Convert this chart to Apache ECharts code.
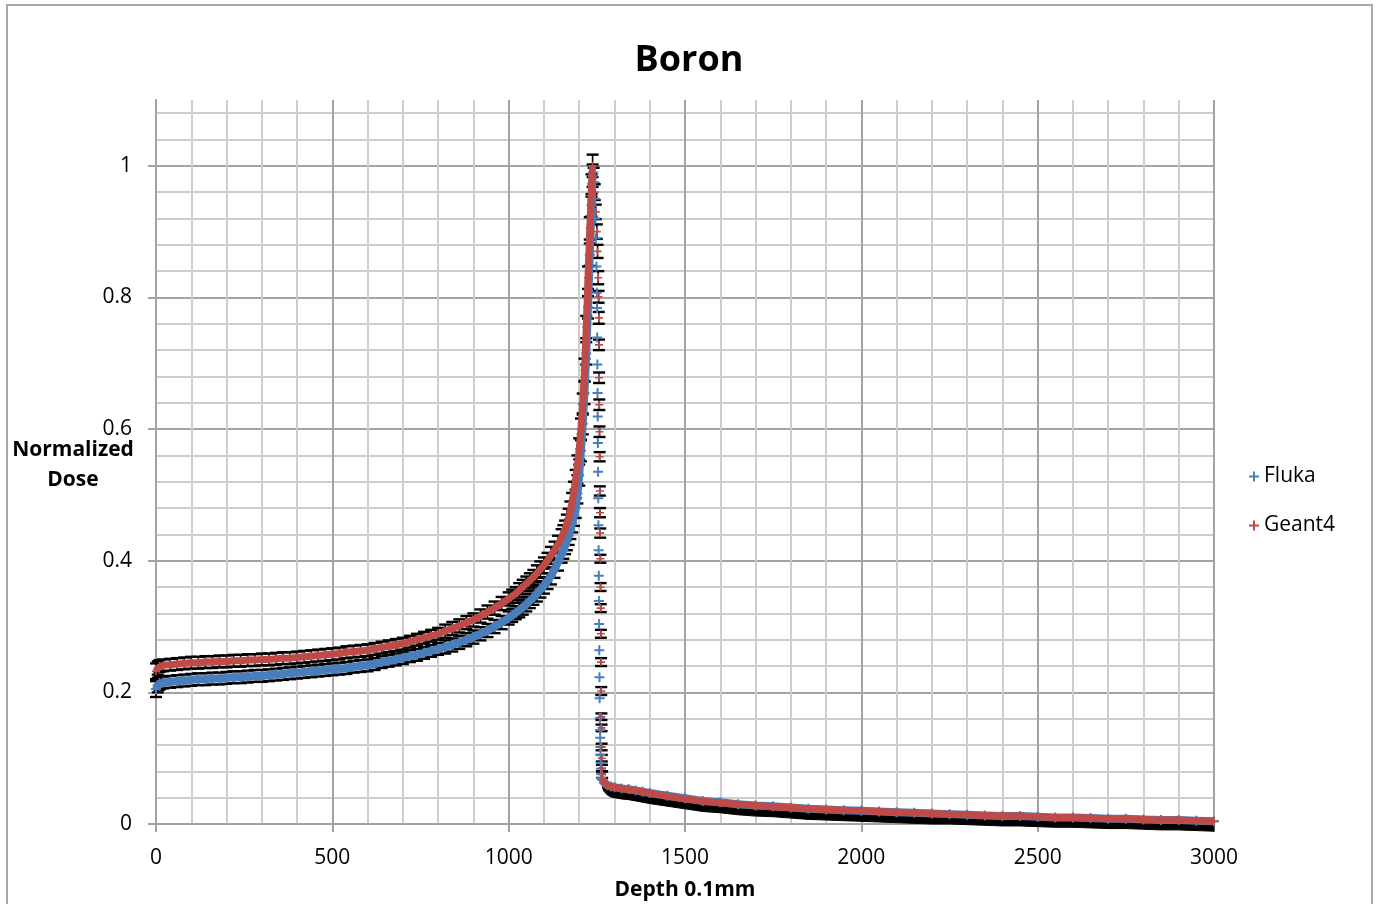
<!DOCTYPE html>
<html><head><meta charset="utf-8">
<script src="https://cdn.jsdelivr.net/npm/echarts@6/dist/echarts.min.js"></script>
<style>html,body{margin:0;padding:0;background:#fff}#c{width:1383px;height:904px}</style>
</head><body><div id="c"></div>
<script>
// ---------- DATA ----------
const title = 'Boron';
const seriesNames = ['Fluka', 'Geant4'];
const xAxisName = 'Depth 0.1mm';
const yAxisName = ['Normalized', 'Dose'];

// entrance plateau + rising edge (depth in 0.1mm)
const riseDepth = [0,5,10,20,40,60,80,100,120,140,
  160,180,200,220,240,260,280,300,320,340,
  360,380,400,420,440,460,480,500,520,540,
  560,580,600,620,640,660,680,700,720,740,
  760,780,800,820,840,860,880,900,920,940,
  960,980,1000,1010,1020,1030,1040,1050,1060,1070,
  1080,1090,1100,1110,1120,1130,1140,1150,1155,1160,
  1165,1170,1175,1180,1185,1190,1195,1200,1205,1210,
  1215,1220,1225,1230,1235,1238];
const flukaRise = [0.205,0.211,0.214,0.215,0.216,0.217,0.218,0.219,0.220,0.220,
  0.221,0.221,0.222,0.223,0.223,0.224,0.225,0.225,0.226,0.227,
  0.228,0.229,0.230,0.231,0.232,0.233,0.234,0.235,0.236,0.237,
  0.239,0.240,0.241,0.243,0.246,0.248,0.250,0.252,0.255,0.257,
  0.260,0.263,0.266,0.269,0.272,0.276,0.280,0.284,0.289,0.294,
  0.300,0.306,0.313,0.317,0.321,0.325,0.329,0.334,0.339,0.344,
  0.350,0.356,0.362,0.369,0.377,0.387,0.398,0.410,0.416,0.423,
  0.430,0.438,0.447,0.457,0.468,0.480,0.502,0.530,0.567,0.608,
  0.655,0.715,0.785,0.865,0.940,0.985];
const geant4Rise = [0.232,0.237,0.240,0.241,0.242,0.243,0.244,0.245,0.245,0.246,
  0.246,0.247,0.247,0.248,0.248,0.249,0.249,0.250,0.250,0.251,
  0.252,0.252,0.253,0.254,0.255,0.256,0.257,0.258,0.259,0.261,
  0.262,0.263,0.264,0.266,0.268,0.270,0.272,0.274,0.277,0.280,
  0.283,0.286,0.289,0.293,0.297,0.301,0.306,0.310,0.316,0.322,
  0.328,0.335,0.342,0.346,0.350,0.355,0.360,0.365,0.370,0.375,
  0.381,0.387,0.393,0.400,0.408,0.416,0.425,0.435,0.441,0.448,
  0.456,0.465,0.476,0.489,0.505,0.523,0.545,0.570,0.600,0.638,
  0.690,0.755,0.830,0.905,0.970,1.000];
const flukaRiseErr = [0.012,0.011,0.010,0.009,0.009,0.009,0.009,0.009,0.009,0.009,
  0.009,0.009,0.009,0.009,0.009,0.009,0.009,0.009,0.009,0.009,
  0.009,0.009,0.009,0.009,0.009,0.009,0.009,0.009,0.009,0.009,
  0.009,0.009,0.009,0.009,0.009,0.009,0.009,0.009,0.009,0.009,
  0.009,0.009,0.009,0.010,0.010,0.010,0.010,0.010,0.010,0.010,
  0.010,0.010,0.010,0.010,0.010,0.011,0.011,0.011,0.011,0.011,
  0.012,0.012,0.012,0.012,0.013,0.013,0.013,0.013,0.013,0.013,
  0.014,0.014,0.014,0.014,0.015,0.015,0.015,0.016,0.016,0.016,
  0.017,0.017,0.017,0.017,0.017,0.017];
const geant4RiseErr = [0.012,0.010,0.009,0.009,0.009,0.009,0.009,0.009,0.009,0.009,
  0.009,0.009,0.009,0.009,0.009,0.009,0.009,0.009,0.009,0.009,
  0.009,0.009,0.009,0.009,0.009,0.009,0.009,0.009,0.009,0.009,
  0.009,0.009,0.009,0.009,0.009,0.009,0.009,0.009,0.009,0.009,
  0.009,0.009,0.009,0.010,0.010,0.010,0.010,0.010,0.010,0.010,
  0.010,0.010,0.010,0.010,0.010,0.011,0.011,0.011,0.011,0.011,
  0.012,0.012,0.012,0.012,0.013,0.013,0.013,0.013,0.013,0.013,
  0.014,0.014,0.014,0.014,0.015,0.015,0.015,0.016,0.016,0.016,
  0.017,0.017,0.017,0.017,0.017,0.017];

// distal fall-off (discrete points)
const flukaFallDepth = [1240,1242,1244,1246,1247,1249,1250,1250.5,1251,1251.5,
  1252,1252.5,1253,1253.5,1254,1254.5,1255,1255.5,1256,1256.5,
  1257,1257.5,1258,1258.5,1259,1259.5,1260,1260.5,1261,1261.5,
  1262,1263];
const flukaFall = [0.990,0.975,0.950,0.920,0.890,0.847,0.807,0.784,0.739,0.698,
  0.655,0.619,0.579,0.535,0.495,0.454,0.416,0.377,0.339,0.304,
  0.264,0.223,0.191,0.161,0.143,0.131,0.117,0.105,0.093,0.084,
  0.076,0.070];
const geant4FallDepth = [1241,1244,1247,1250,1252,1254,1255,1255.5,1256,1256.5,
  1257,1257.5,1258,1258.5,1259,1259.5,1260,1260.5,1261,1261.5,
  1262,1262.5,1263,1263.3,1263.6,1264,1264.5,1265];
const geant4Fall = [0.985,0.960,0.930,0.900,0.870,0.830,0.801,0.769,0.728,0.678,
  0.637,0.596,0.558,0.506,0.473,0.442,0.403,0.360,0.328,0.289,
  0.246,0.202,0.163,0.146,0.117,0.100,0.085,0.075];
const geant4FallErr = [0.012,0.012,0.011,0.011,0.010,0.010,0.009,0.009,0.008,0.008,
  0.008,0.008,0.007,0.007,0.007,0.007,0.006,0.006,0.006,0.006,
  0.006,0.006,0.005,0.005,0.005,0.005,0.005,0.005];

// fragment tail
const tailDepth = [1266,1270,1275,1280,1290,1300,1320,1340,1360,1380,
  1400,1450,1500,1550,1600,1650,1700,1750,1800,1850,
  1900,1950,2000,2050,2100,2150,2200,2250,2300,2350,
  2400,2450,2500,2550,2600,2650,2700,2750,2800,2850,
  2900,2950,3000];
const flukaTail = [0.067,0.063,0.061,0.059,0.057,0.056,0.054,0.053,0.051,0.049,
  0.047,0.043,0.039,0.035,0.033,0.030,0.028,0.027,0.025,0.023,
  0.022,0.021,0.020,0.019,0.018,0.017,0.016,0.015,0.014,0.013,
  0.012,0.012,0.011,0.010,0.010,0.009,0.008,0.008,0.007,0.006,
  0.006,0.005,0.004];
const geant4Tail = [0.068,0.064,0.061,0.059,0.057,0.056,0.054,0.052,0.051,0.049,
  0.047,0.042,0.038,0.035,0.032,0.030,0.028,0.026,0.025,0.023,
  0.022,0.021,0.020,0.019,0.018,0.017,0.016,0.015,0.014,0.013,
  0.012,0.012,0.011,0.010,0.010,0.009,0.008,0.008,0.007,0.006,
  0.006,0.005,0.004];
const tailErrMinus = [0.012,0.013,0.014,0.015,0.016,0.016,0.016,0.016,0.016,0.016,
  0.016,0.016,0.016,0.016,0.016,0.016,0.016,0.016,0.016,0.016,
  0.016,0.016,0.016,0.016,0.016,0.016,0.016,0.015,0.015,0.015,
  0.015,0.015,0.015,0.015,0.015,0.015,0.015,0.015,0.015,0.015,
  0.015,0.015,0.015];

// axes
const xMin = 0, xMax = 3000, xMajor = 500, xMinor = 100;
const yMin = 0, yMax = 1.1, yMajor = 0.2, yMinor = 0.04;

// ---------- CHART ----------
const BLUE = '#4a7ebb', RED = '#be4b48';
const FONT = '"Open Sans", "Noto Sans", sans-serif';
const MAJOR = '#a3a3a3', MINOR = '#cdcdcd';
const PLUS = 'path://M4 0H6V4H10V6H6V10H4V6H0V4H4Z';

const pairs = (xs, ys) => xs.map((x, i) => [x, ys[i]]);
const triples = (xs, ys, es) => xs.map((x, i) => [x, ys[i], es[i]]);

function errorBars(params, api) {
  const x = api.value(0), y = api.value(1), e = api.value(2);
  const hi = api.coord([x, y + e]), lo = api.coord([x, y - e]);
  const hw = 6, st = { stroke: '#000', lineWidth: 2.4 };
  return { type: 'group', children: [
    { type: 'line', shape: { x1: hi[0], y1: hi[1], x2: lo[0], y2: lo[1] }, style: { stroke: '#000', lineWidth: 1.6 } },
    { type: 'line', shape: { x1: hi[0] - hw, y1: hi[1], x2: hi[0] + hw, y2: hi[1] }, style: st },
    { type: 'line', shape: { x1: lo[0] - hw, y1: lo[1], x2: lo[0] + hw, y2: lo[1] }, style: st }
  ]};
}
function minusBand(data) {
  return function (params, api) {
    const i = params.dataIndex;
    if (i >= data.length - 1) return null;
    const a = data[i], b = data[i + 1];
    const pts = [api.coord([a[0], a[1]]), api.coord([b[0], b[1]]),
                 api.coord([b[0], b[1] - b[2]]), api.coord([a[0], a[1] - a[2]])];
    return { type: 'polygon', shape: { points: pts }, style: { fill: '#000', stroke: '#000', lineWidth: 1 } };
  };
}

const flukaTailErrData = triples(tailDepth, flukaTail, tailErrMinus);

const chart = echarts.init(document.getElementById('c'), null, { renderer: 'canvas' });
chart.setOption({
  animation: false,
  backgroundColor: '#fff',
  grid: { left: 156, right: 169, top: 100, bottom: 80, containLabel: false },
  legend: {
    orient: 'vertical', left: 1244, top: 461, itemGap: 28, itemWidth: 10, itemHeight: 10,
    selectedMode: false,
    textStyle: { fontSize: 21, color: '#000', fontFamily: FONT },
    data: [
      { name: seriesNames[0], icon: PLUS, itemStyle: { color: BLUE } },
      { name: seriesNames[1], icon: PLUS, itemStyle: { color: RED } }
    ]
  },
  xAxis: [
    { type: 'value', min: xMin, max: xMax, interval: xMinor,
      axisLine: { show: false }, axisTick: { show: false }, axisLabel: { show: false },
      splitLine: { show: true, lineStyle: { color: [MAJOR, MINOR, MINOR, MINOR, MINOR], width: 2 } } },
    { type: 'value', min: xMin, max: xMax, interval: xMajor, position: 'bottom',
      axisLine: { show: true, lineStyle: { color: MAJOR, width: 2 } },
      axisTick: { show: true, length: 8, lineStyle: { color: MAJOR, width: 2 } },
      axisLabel: { fontSize: 21, color: '#000', margin: 24, fontFamily: FONT, formatter: v => String(v) },
      splitLine: { show: false } }
  ],
  yAxis: [
    { type: 'value', min: yMin, max: yMax, interval: yMinor,
      axisLine: { show: false }, axisTick: { show: false }, axisLabel: { show: false },
      splitLine: { show: true, showMaxLine: false, lineStyle: { color: [MAJOR, MINOR, MINOR, MINOR, MINOR], width: 2 } } },
    { type: 'value', min: yMin, max: yMax, interval: yMajor, position: 'left',
      axisLine: { show: true, onZero: false, lineStyle: { color: MAJOR, width: 2 } },
      axisTick: { show: true, length: 8, lineStyle: { color: MAJOR, width: 2 } },
      axisLabel: { fontSize: 21, color: '#000', margin: 24, fontFamily: FONT, showMaxLabel: false,
        formatter: v => String(+v.toFixed(2)), verticalAlign: 'middle', padding: [8, 0, 0, 0] },
      splitLine: { show: false } }
  ],
  graphic: [
    { type: 'rect', shape: { x: 7, y: 5, width: 1365, height: 920 }, style: { fill: 'none', stroke: '#a8a8a8', lineWidth: 2 }, z: 100, silent: true },
    { type: 'rect', shape: { x: 140, y: 96, width: 15, height: 8 }, style: { fill: '#fff' }, z: 100, silent: true },
    { type: 'text', x: 689, y: 61, z: 100, style: { text: title, font: 'bold 36px ' + FONT, fill: '#000', align: 'center', verticalAlign: 'middle' } },
    { type: 'text', x: 73, y: 450, z: 100, style: { text: yAxisName[0], font: 'bold 21px ' + FONT, fill: '#000', align: 'center', verticalAlign: 'middle' } },
    { type: 'text', x: 73, y: 480, z: 100, style: { text: yAxisName[1], font: 'bold 21px ' + FONT, fill: '#000', align: 'center', verticalAlign: 'middle' } },
    { type: 'text', x: 685, y: 890, z: 100, style: { text: xAxisName, font: 'bold 21px ' + FONT, fill: '#000', align: 'center', verticalAlign: 'middle' } }
  ],
  series: [
    { name: seriesNames[1], type: 'custom', renderItem: errorBars, z: 2, silent: true,
      encode: { x: 0, y: 1 }, data: triples(riseDepth, geant4Rise, geant4RiseErr) },
    { name: seriesNames[1], type: 'custom', renderItem: errorBars, z: 2, silent: true,
      encode: { x: 0, y: 1 }, data: triples(geant4FallDepth, geant4Fall, geant4FallErr) },
    { name: seriesNames[0], type: 'custom', renderItem: errorBars, z: 2, silent: true,
      encode: { x: 0, y: 1 }, data: triples(riseDepth, flukaRise, flukaRiseErr) },
    { name: seriesNames[0], type: 'custom', renderItem: minusBand(flukaTailErrData), z: 2, silent: true,
      encode: { x: 0, y: 1 }, data: flukaTailErrData },

    { name: seriesNames[0], type: 'line', showSymbol: false, symbol: 'none', z: 3, silent: true,
      lineStyle: { color: BLUE, width: 8 }, itemStyle: { color: BLUE }, data: pairs(riseDepth, flukaRise) },
    { name: seriesNames[0], type: 'line', showSymbol: false, symbol: 'none', z: 3, silent: true,
      lineStyle: { color: BLUE, width: 8 }, itemStyle: { color: BLUE }, data: pairs(tailDepth, flukaTail) },
    { name: seriesNames[0], type: 'scatter', symbol: PLUS, symbolSize: 10, z: 3, silent: true,
      itemStyle: { color: BLUE, opacity: 1 },
      data: pairs(riseDepth, flukaRise).concat(pairs(flukaFallDepth, flukaFall), pairs(tailDepth, flukaTail)) },

    { name: seriesNames[1], type: 'line', showSymbol: false, symbol: 'none', z: 4, silent: true,
      lineStyle: { color: RED, width: 7 }, itemStyle: { color: RED }, data: pairs(riseDepth, geant4Rise) },
    { name: seriesNames[1], type: 'line', showSymbol: false, symbol: 'none', z: 4, silent: true,
      lineStyle: { color: RED, width: 7 }, itemStyle: { color: RED }, data: pairs(tailDepth, geant4Tail) },
    { name: seriesNames[1], type: 'scatter', symbol: PLUS, symbolSize: 8, z: 4, silent: true,
      itemStyle: { color: RED, opacity: 1 },
      data: pairs(riseDepth, geant4Rise).concat(pairs(geant4FallDepth, geant4Fall), pairs(tailDepth, geant4Tail)) }
  ]
});
</script>
</body></html>
